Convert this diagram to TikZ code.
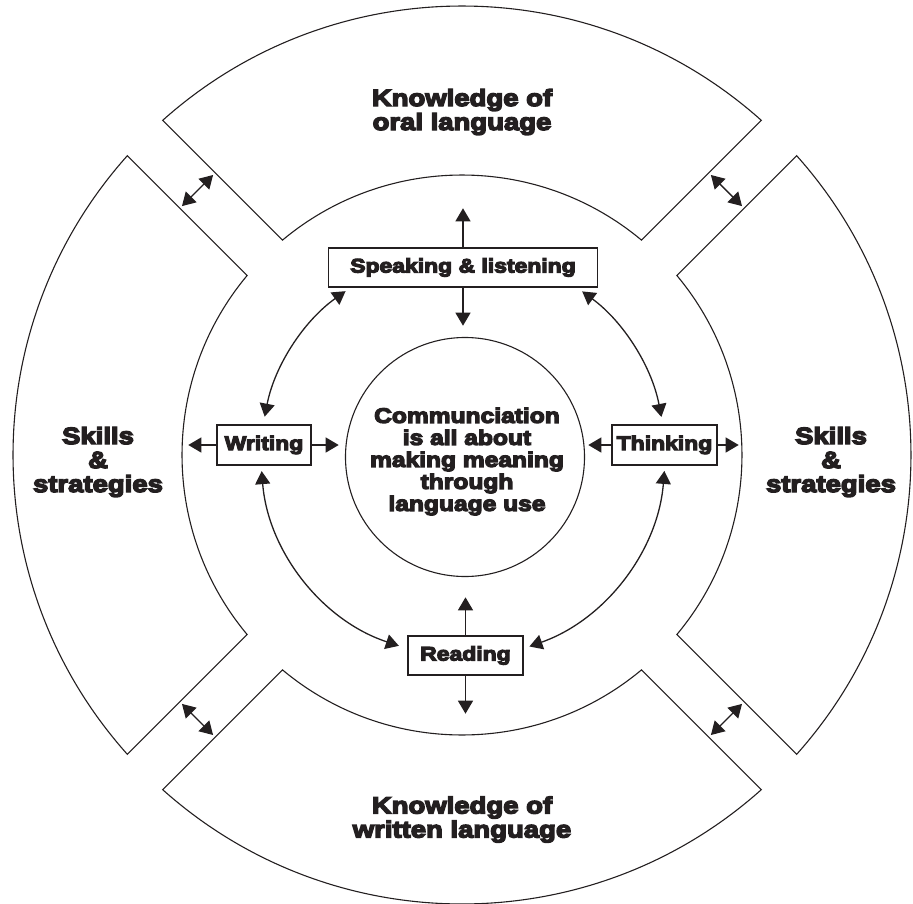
\documentclass[tikz,border=0pt]{standalone}
\usepackage{fontspec}
\setmainfont{Liberation Sans}
\newfontfamily\heavy{Liberation Sans}[UprightFont={* Bold}, FakeStretch=1.17, FakeBold=6]
\usetikzlibrary{arrows.meta}
\definecolor{ink}{RGB}{35,31,32}
\tikzset{
  seg/.style={draw=ink, line width=1.1pt},
  box/.style={draw=ink, line width=1.4pt, fill=white, inner sep=0pt, minimum height=39pt,
    text=ink, font=\heavy\fontsize{19.6}{21}\selectfont},
  arr/.style={-{Triangle[length=13pt,width=15pt]}, draw=ink, line width=1.3pt},
  darr/.style={{Triangle[length=13pt,width=15pt]}-{Triangle[length=13pt,width=15pt]}, draw=ink, line width=1.3pt},
  outlbl/.style={text=ink, align=center, font=\heavy\fontsize{23.5}{24}\selectfont},
  inlbl/.style={text=ink, align=center, font=\heavy\fontsize{21}{22}\selectfont}
}
\begin{document}
\begin{tikzpicture}[x=1pt,y=1pt]
\useasboundingbox (-462,-448) rectangle (451,455);
% ring segments
\draw[seg] (131.81:449pt) arc[start angle=131.81, end angle=48.19, radius=449pt]
  -- (50.12:280pt) arc[start angle=50.12, end angle=129.88, radius=280pt] -- cycle;
\draw[seg] (41.81:449pt) arc[start angle=41.81, end angle=-41.81, radius=449pt]
  -- (-39.88:280pt) arc[start angle=-39.88, end angle=39.88, radius=280pt] -- cycle;
\draw[seg] (-48.19:449pt) arc[start angle=-48.19, end angle=-131.81, radius=449pt]
  -- (-129.88:280pt) arc[start angle=-129.88, end angle=-50.12, radius=280pt] -- cycle;
\draw[seg] (138.19:449pt) arc[start angle=138.19, end angle=221.81, radius=449pt]
  -- (219.88:280pt) arc[start angle=219.88, end angle=140.12, radius=280pt] -- cycle;
% segment labels
\node[outlbl] (oral) at (0,343) {Knowledge of\\oral language};
\node[outlbl] (written) at (0,-364.5) {Knowledge of\\written language};
\node[outlbl] (skl) at (-364,-7) {Skills\\\&\\strategies};
\node[outlbl] (skr) at (369,-7) {Skills\\\&\\strategies};
% gap arrows
\foreach \a/\n in {135/ga,45/gb,-45/gc,-135/gd}{
  \coordinate (\n1) at ([shift={(\a:374pt)}]\a+90:22pt);
  \coordinate (\n2) at ([shift={(\a:374pt)}]\a-90:22pt);
  \draw[darr] (\n1) -- (\n2);
}
% centre
\node[circle, draw=ink, line width=1.1pt, minimum size=239pt, inner sep=0pt] (cc) at (3,-2) {};
\node[inlbl] (ct) at (5,-6.5) {Communciation\\is all about\\making meaning\\through\\language use};
% boxes
\node[box, minimum width=269pt] (sp) at (1,187.5) {Speaking \& listening};
\node[box, minimum width=94pt, minimum height=40pt] (wr) at (-198,10) {Writing};
\node[box, minimum width=105pt, minimum height=40pt] (th) at (202.5,10) {Thinking};
\node[box, minimum width=115pt] (rd) at (3.5,-200.5) {Reading};
% straight arrows
\coordinate (spU) at ([yshift=39pt]sp.north);
\coordinate (spD) at ([yshift=-38pt]sp.south);
\coordinate (wrL) at ([xshift=-28pt]wr.west);
\coordinate (wrR) at ([xshift=27pt]wr.east);
\coordinate (thL) at ([xshift=-23pt]th.west);
\coordinate (thR) at ([xshift=21pt]th.east);
\coordinate (rdU) at ([yshift=38pt]rd.north);
\coordinate (rdD) at ([yshift=-38pt]rd.south);
\draw[arr] (sp.north) -- (spU);
\draw[arr] (sp.south) -- (spD);
\draw[arr] (wr.west) -- (wrL);
\draw[arr] (wr.east) -- (wrR);
\draw[arr] (th.west) -- (thL);
\draw[arr] (th.east) -- (thR);
\draw[arr] (rd.north) -- (rdU);
\draw[arr] (rd.south) -- (rdD);
% curved arrows
\coordinate (c1) at (125.4:201pt);
\coordinate (c3) at (184.6:201pt);
\coordinate (c5) at (289.4:203pt);
\coordinate (c7) at (10.8:203pt);
\draw[darr] (c1) arc[start angle=125.4, end angle=169, radius=201pt];
\draw[darr] (c3) arc[start angle=184.6, end angle=251.7, radius=201pt];
\draw[darr] (c5) arc[start angle=289.4, end angle=355.5, radius=203pt];
\draw[darr] (c7) arc[start angle=10.8, end angle=53.7, radius=203pt];
\end{tikzpicture}
\end{document}
